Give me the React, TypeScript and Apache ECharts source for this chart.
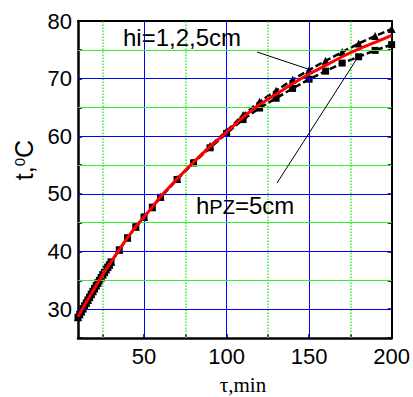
import React, { useEffect, useRef } from "react";
import * as echarts from "echarts";

// time grid (min) shared by the measured series
const times = [10, 11, 12, 13, 14, 15, 16, 17, 18, 19, 20, 21, 22, 23, 24, 25, 26, 27, 28, 29, 30, 35, 40, 45, 50, 55, 60, 70, 80, 90, 100, 110, 120, 130, 140, 150, 160, 170, 180, 190, 200];
// hi = 1,2,5 cm (triangles)
const tempHi = [28.6, 29.1, 29.6, 30.1, 30.6, 31.1, 31.6, 32.1, 32.6, 33.1, 33.6, 34.1, 34.6, 35.0, 35.5, 36.0, 36.4, 36.9, 37.3, 37.7, 38.2, 40.3, 42.4, 44.3, 46.0, 47.7, 49.5, 52.6, 55.5, 58.3, 60.9, 63.7, 66.0, 67.9, 69.8, 71.5, 73.1, 74.6, 76.1, 77.4, 78.6];
// hPZ = 5 cm (squares)
const tempPZ = [28.6, 29.1, 29.6, 30.1, 30.6, 31.1, 31.6, 32.1, 32.6, 33.1, 33.6, 34.1, 34.6, 35.0, 35.5, 36.0, 36.4, 36.9, 37.3, 37.7, 38.2, 40.3, 42.4, 44.3, 46.0, 47.7, 49.4, 52.5, 55.4, 58.0, 60.5, 62.9, 64.9, 66.6, 68.3, 69.9, 71.3, 72.7, 73.8, 74.9, 75.9];
// calculated (red line)
const calcTimes = [10, 15, 20, 25, 30, 35, 40, 45, 50, 55, 60, 70, 80, 90, 100, 110, 120, 130, 140, 150, 160, 170, 180, 190, 200];
const tempCalc = [28.7, 31.2, 33.6, 36.0, 38.2, 40.3, 42.4, 44.3, 46.0, 47.7, 49.5, 52.6, 55.5, 58.2, 60.7, 63.3, 65.5, 67.3, 69.1, 70.8, 72.3, 73.8, 75.1, 76.3, 77.5];

const xTicks = [25, 50, 75, 100, 125, 150, 175, 200];
const xLabels = [50, 100, 150, 200];
const xMajorGrid = [50, 100, 150];
const xMinorGrid = [25, 75, 125, 175];
const yMajorGrid = [30, 40, 50, 60, 70];
const yMinorGrid = [35, 45, 55, 65, 75];

const zip = (xs: number[], ys: number[]) => xs.map((x, i) => [x, ys[i]]);

export default function App() {
  const ref = useRef<HTMLDivElement>(null);
  useEffect(() => {
    document.body.style.margin = "0";
    const chart = echarts.init(ref.current!, null, { renderer: "svg" });
    const blue = "#0000ff";
    const green = "#33ee33";
    const labelFont = { color: "#000", fontSize: 22, fontFamily: "Liberation Sans, Arial, sans-serif" };
    const axisLine = { show: true, lineStyle: { color: "#000", width: 2.5 } };
    const option: any = {
      animation: false,
      grid: { left: 78, top: 21, width: 315, height: 317 },
      xAxis: [
        {
          type: "value", min: 10, max: 200, position: "bottom",
          axisLine,
          axisTick: { show: true, inside: true, length: 4, customValues: xTicks, lineStyle: { color: "#000", width: 1.5 } },
          axisLabel: { ...labelFont, customValues: xLabels, margin: 7 },
          splitLine: { show: false },
        },
        {
          type: "value", min: 10, max: 200, position: "top",
          axisLine: { show: true, lineStyle: { color: "#000", width: 2 } }, axisTick: { show: false }, axisLabel: { show: false }, splitLine: { show: false },
        },
      ],
      yAxis: [
        {
          type: "value", min: 25, max: 80, interval: 5, position: "left",
          axisLine,
          axisTick: { show: true, inside: true, length: 4, lineStyle: { color: "#000", width: 1.5 } },
          axisLabel: { ...labelFont, margin: 6, formatter: (v: number) => (v % 10 === 0 ? String(v) : "") },
          splitLine: { show: false },
        },
        {
          type: "value", min: 25, max: 80, interval: 5, position: "right",
          axisLine: { show: true, lineStyle: { color: "#000", width: 2 } },
          axisTick: { show: true, inside: true, length: 4, lineStyle: { color: "#000", width: 1.5 } },
          axisLabel: { show: false },
          splitLine: { show: false },
        },
      ],
      series: [
        {
          type: "line", data: [], z: 0, silent: true,
          markLine: {
            silent: true, symbol: "none", label: { show: false }, animation: false,
            data: [
              ...xMinorGrid.map((v) => ({ xAxis: v, lineStyle: { color: green, width: 1.5, type: "dotted" } })),
              ...xMajorGrid.map((v) => ({ xAxis: v, lineStyle: { color: blue, width: 1, type: "solid" } })),
              ...yMinorGrid.map((v) => ({ yAxis: v, lineStyle: { color: green, width: 1, type: "solid" } })),
              ...yMajorGrid.map((v) => ({ yAxis: v, lineStyle: { color: blue, width: 1, type: "solid" } })),
            ],
          },
        },
        {
          name: "hi=1,2,5cm", type: "line", data: zip(times, tempHi), z: 3,
          symbol: "triangle", symbolSize: 8,
          itemStyle: { color: "#000" },
          lineStyle: { color: "#000", width: 2.5, type: [7, 3] },
        },
        {
          name: "hPZ=5cm", type: "line", data: zip(times, tempPZ), z: 3,
          symbol: "rect", symbolSize: 7,
          itemStyle: { color: "#000" },
          lineStyle: { color: "#000", width: 2.5, type: [7, 3] },
        },
        {
          name: "calc", type: "line", data: zip(calcTimes, tempCalc), z: 5,
          symbol: "none", smooth: 0.3,
          lineStyle: { color: "#ff0000", width: 3 },
        },
      ],
      graphic: [
        {
          type: "text", x: 243, y: 385, z: 10,
          style: { text: "τ,min", font: '21px "Liberation Serif", serif', fill: "#000", align: "center", verticalAlign: "middle", textAlign: "center", textVerticalAlign: "middle" },
        },
        {
          type: "text", x: 24, y: 160, rotation: Math.PI / 2, z: 10,
          style: {
            text: "{a|t,}{s|0}{a|C}", fill: "#000", align: "center", verticalAlign: "middle", textAlign: "center", textVerticalAlign: "middle",
            rich: {
              a: { fontSize: 25, fontFamily: "Liberation Sans, Arial, sans-serif", fill: "#000", color: "#000" },
              s: { fontSize: 15, fontFamily: "Liberation Sans, Arial, sans-serif", fill: "#000", color: "#000", verticalAlign: "top" },
            },
          },
        },
        {
          type: "text", x: 123, y: 37, z: 10,
          style: { text: "hi=1,2,5cm", font: '24px "Liberation Sans", Arial, sans-serif', fill: "#000", align: "left", verticalAlign: "middle", textAlign: "left", textVerticalAlign: "middle" },
        },
        {
          type: "text", x: 196, y: 205, z: 10,
          style: {
            text: "{a|h}{b|PZ}{a|=5cm}", fill: "#000", align: "left", verticalAlign: "middle", textAlign: "left", textVerticalAlign: "middle",
            rich: {
              a: { fontSize: 24, fontFamily: "Liberation Sans, Arial, sans-serif", fill: "#000", color: "#000" },
              b: { fontSize: 20, fontFamily: "Liberation Sans, Arial, sans-serif", fill: "#000", color: "#000", verticalAlign: "bottom" },
            },
          },
        },
        { type: "line", z: 10, shape: { x1: 257, y1: 52, x2: 311, y2: 70 }, style: { stroke: "#000", lineWidth: 1 } },
        { type: "line", z: 10, shape: { x1: 277, y1: 183, x2: 358, y2: 57 }, style: { stroke: "#000", lineWidth: 1 } },
      ],
    };
    chart.setOption(option);
    return () => chart.dispose();
  }, []);
  return <div ref={ref} style={{ width: 413, height: 397 }} />;
}
